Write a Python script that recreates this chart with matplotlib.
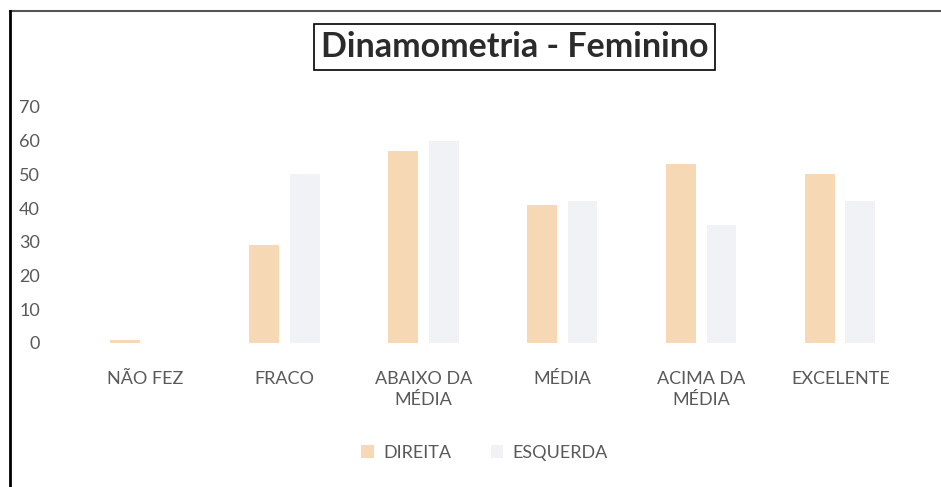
import matplotlib
matplotlib.use("Agg")
import matplotlib.pyplot as plt
import numpy as np

categories = ["NÃO FEZ", "FRACO", "ABAIXO DA\nMÉDIA", "MÉDIA", "ACIMA DA\nMÉDIA", "EXCELENTE"]
direita = [1, 29, 57, 41, 53, 50]
esquerda = [0, 50, 60, 42, 35, 42]
yticks = [0, 10, 20, 30, 40, 50, 60, 70]

col_d = "#F6D8B4"
col_e = "#F0F2F5"
txt = "#595959"
font = "Lato"

fig = plt.figure(figsize=(9.41, 4.87), dpi=100)
ax = fig.add_axes([0.0808, 0.2957, 0.886, 0.4846])

x = np.arange(len(categories))
w = 0.215
off = 0.145
ax.bar(x - off, direita, w, color=col_d, label="DIREITA")
ax.bar(x + off, esquerda, w, color=col_e, label="ESQUERDA")

ax.set_xlim(-0.5, len(categories) - 0.5)
ax.set_ylim(0, 70)
ax.set_yticks(yticks)
ax.set_xticks(x)
ax.set_xticklabels(categories, fontsize=13, color=txt, family=font, linespacing=1.4)
ax.set_yticklabels([str(v) for v in yticks], fontsize=13, color=txt, family=font)
ax.tick_params(axis="y", length=0, pad=26)
ax.tick_params(axis="x", length=0, pad=20)
for s in ax.spines.values():
    s.set_visible(False)

leg = fig.legend(loc="center", bbox_to_anchor=(0.515, 0.07), ncol=2, frameon=False,
                 prop={"family": font, "size": 13},
                 handlelength=0.7, handleheight=0.7,
                 columnspacing=2.2, handletextpad=0.5)
for t in leg.get_texts():
    t.set_color(txt)

fig.text(0.547, 0.903, "Dinamometria - Feminino", ha="center", va="center",
         fontsize=24.5, fontweight="bold", family=font, color="#2b2b2b",
         bbox=dict(boxstyle="square,pad=0.2", facecolor="white", edgecolor="black", linewidth=1.2))

# outer frame lines (top and left)
fig.add_artist(plt.Line2D([0.0105, 1.0], [1 - 11/487, 1 - 11/487], color="#555555", linewidth=1.5))
fig.add_artist(plt.Line2D([0.0105, 0.0105], [0, 1 - 11/487], color="black", linewidth=2))

fig.savefig("out.png", dpi=100)
